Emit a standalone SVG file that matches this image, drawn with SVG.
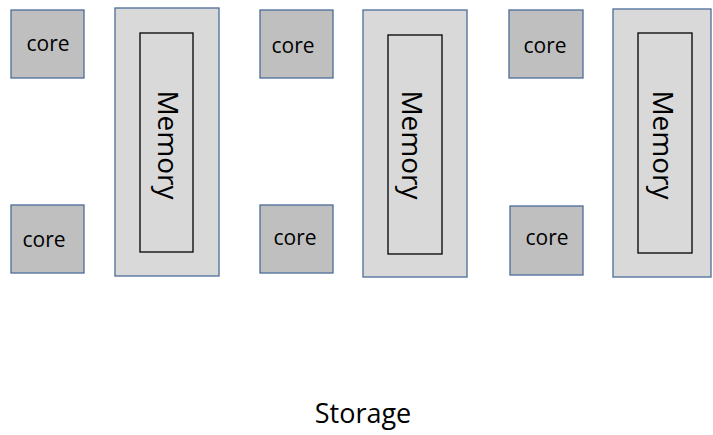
<svg xmlns="http://www.w3.org/2000/svg" width="713" height="435" viewBox="0 0 713 435">
<style>
.core{fill:#bfbfbf;stroke:#4a6c98;stroke-width:1.3}
.mem{fill:#d9d9d9;stroke:#4a6c98;stroke-width:1.3}
.inner{fill:none;stroke:#000;stroke-width:1.3}
.ct{font-family:"Open Sans","Liberation Sans",sans-serif;font-size:21px;fill:#000;text-anchor:middle}
.mt{font-family:"Open Sans","Liberation Sans",sans-serif;font-size:28px;fill:#000;text-anchor:middle}
.st{font-family:"Open Sans","Liberation Sans",sans-serif;font-size:27px;fill:#000;text-anchor:middle}
</style>
<rect width="713" height="435" fill="#fff"/>
<g id="core1a"><rect class="core" x="11" y="10" width="73" height="68"/><text class="ct" x="48" y="51">core</text></g>
<g id="core1b"><rect class="core" x="11" y="205" width="73" height="68"/><text class="ct" x="44" y="247">core</text></g>
<g id="mem1"><rect class="mem" x="115" y="8" width="104" height="268"/><rect class="inner" x="140" y="33" width="53" height="219"/><text class="mt" transform="translate(158,145) rotate(90)">Memory</text></g>
<g id="core2a"><rect class="core" x="260" y="10" width="73" height="68"/><text class="ct" x="293" y="53">core</text></g>
<g id="core2b"><rect class="core" x="260" y="205" width="73" height="68"/><text class="ct" x="295" y="245">core</text></g>
<g id="mem2"><rect class="mem" x="363" y="10" width="104" height="267"/><rect class="inner" x="388" y="35" width="54" height="219"/><text class="mt" transform="translate(402,145) rotate(90)">Memory</text></g>
<g id="core3a"><rect class="core" x="509" y="10" width="74" height="68"/><text class="ct" x="545" y="53">core</text></g>
<g id="core3b"><rect class="core" x="510" y="206" width="73" height="69"/><text class="ct" x="547" y="245">core</text></g>
<g id="mem3"><rect class="mem" x="613" y="9" width="98" height="268"/><rect class="inner" x="638" y="33" width="54" height="220"/><text class="mt" transform="translate(653,145) rotate(90)">Memory</text></g>
<g id="connectors"></g>
<g id="storage"><text class="st" x="363" y="423">Storage</text></g>
</svg>
